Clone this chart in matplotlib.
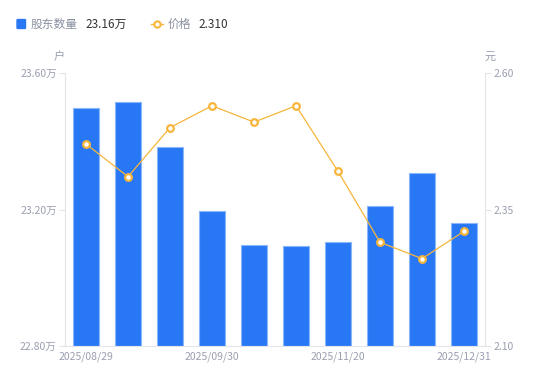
import matplotlib.pyplot as plt
import matplotlib.lines as mlines
import matplotlib.patches as mpatches

plt.rcParams['font.family'] = ['Noto Sans CJK SC', 'DejaVu Sans']

# data
dates = ['2025/08/29', '2025/09/10', '2025/09/19', '2025/09/30', '2025/10/20',
         '2025/10/31', '2025/11/20', '2025/11/28', '2025/12/10', '2025/12/31']
holders = [23.497, 23.514, 23.382, 23.196, 23.096, 23.093, 23.105, 23.210, 23.308, 23.160]
price = [2.47, 2.41, 2.50, 2.54, 2.51, 2.54, 2.42, 2.29, 2.26, 2.31]
shown_ticks = [0, 3, 6, 9]

bar_color = '#2878f5'
line_color = '#f7b53b'
axis_color = '#e3e5ea'
tick_color = '#9a9fb0'

fig = plt.figure(figsize=(5.5, 3.81), dpi=100)
ax = fig.add_axes([65 / 550, 35 / 381, 420 / 550, 273 / 381])
ax2 = ax.twinx()

x = list(range(len(dates)))
ax.bar(x, [h - 22.80 for h in holders], bottom=22.80, width=0.6,
       color=bar_color, edgecolor='#8cb6fa', linewidth=0.8, zorder=2)
ax.set_ylim(22.80, 23.60)
ax.set_xlim(-0.5, len(dates) - 0.5)
ax.set_yticks([22.80, 23.20, 23.60])
ax.set_yticklabels(['22.80万', '23.20万', '23.60万'])

ax2.plot(x, price, color=line_color, linewidth=0.9, marker='o', markersize=4.8,
         markerfacecolor='white', markeredgecolor=line_color, markeredgewidth=1.6, zorder=3)
ax2.set_ylim(2.10, 2.60)
ax2.set_yticks([2.10, 2.35, 2.60])
ax2.set_yticklabels(['2.10', '2.35', '2.60'])

ax.set_xticks(shown_ticks)
ax.set_xticklabels([dates[i] for i in shown_ticks])

for a in (ax, ax2):
    for s in a.spines.values():
        s.set_visible(False)
    a.tick_params(colors=axis_color, labelcolor=tick_color, labelsize=7.5,
                  length=4, width=0.8)
ax.spines['left'].set_visible(True)
ax.spines['left'].set_color(axis_color)
ax.spines['bottom'].set_visible(True)
ax.spines['bottom'].set_color(axis_color)
ax2.spines['right'].set_visible(True)
ax2.spines['right'].set_color(axis_color)
ax.tick_params(axis='x', length=0, pad=4)
ax.tick_params(axis='y', pad=2)
ax2.tick_params(axis='y', pad=2)

# units
fig.text(59 / 550, 1 - 57 / 381, '户', color=tick_color, fontsize=8, ha='center', va='center')
fig.text(490 / 550, 1 - 57 / 381, '元', color=tick_color, fontsize=8, ha='center', va='center')

# legend at the top
ly = 1 - 24 / 381
fig.patches.append(mpatches.FancyBboxPatch((17 / 550, ly - 4.5 / 381), 8.5 / 550, 9 / 381,
                                           boxstyle='round,pad=0,rounding_size=0.002',
                                           transform=fig.transFigure, color=bar_color))
fig.text(31 / 550, ly, '股东数量', color='#8a8fa0', fontsize=8.5, va='center')
fig.text(85 / 550, ly, '23.16万', color='#333333', fontsize=8.5, va='center')
fig.lines.append(mlines.Line2D([151 / 550, 163 / 550], [ly, ly], transform=fig.transFigure,
                               color=line_color, linewidth=1))
fig.lines.append(mlines.Line2D([157 / 550], [ly], transform=fig.transFigure,
                               color=line_color, marker='o', markersize=4.5, linestyle='None',
                               markerfacecolor='white', markeredgecolor=line_color,
                               markeredgewidth=1.5))
fig.text(168 / 550, ly, '价格', color='#8a8fa0', fontsize=8.5, va='center')
fig.text(198 / 550, ly, '2.310', color='#333333', fontsize=8.5, va='center')

fig.savefig('out.png', dpi=100)
